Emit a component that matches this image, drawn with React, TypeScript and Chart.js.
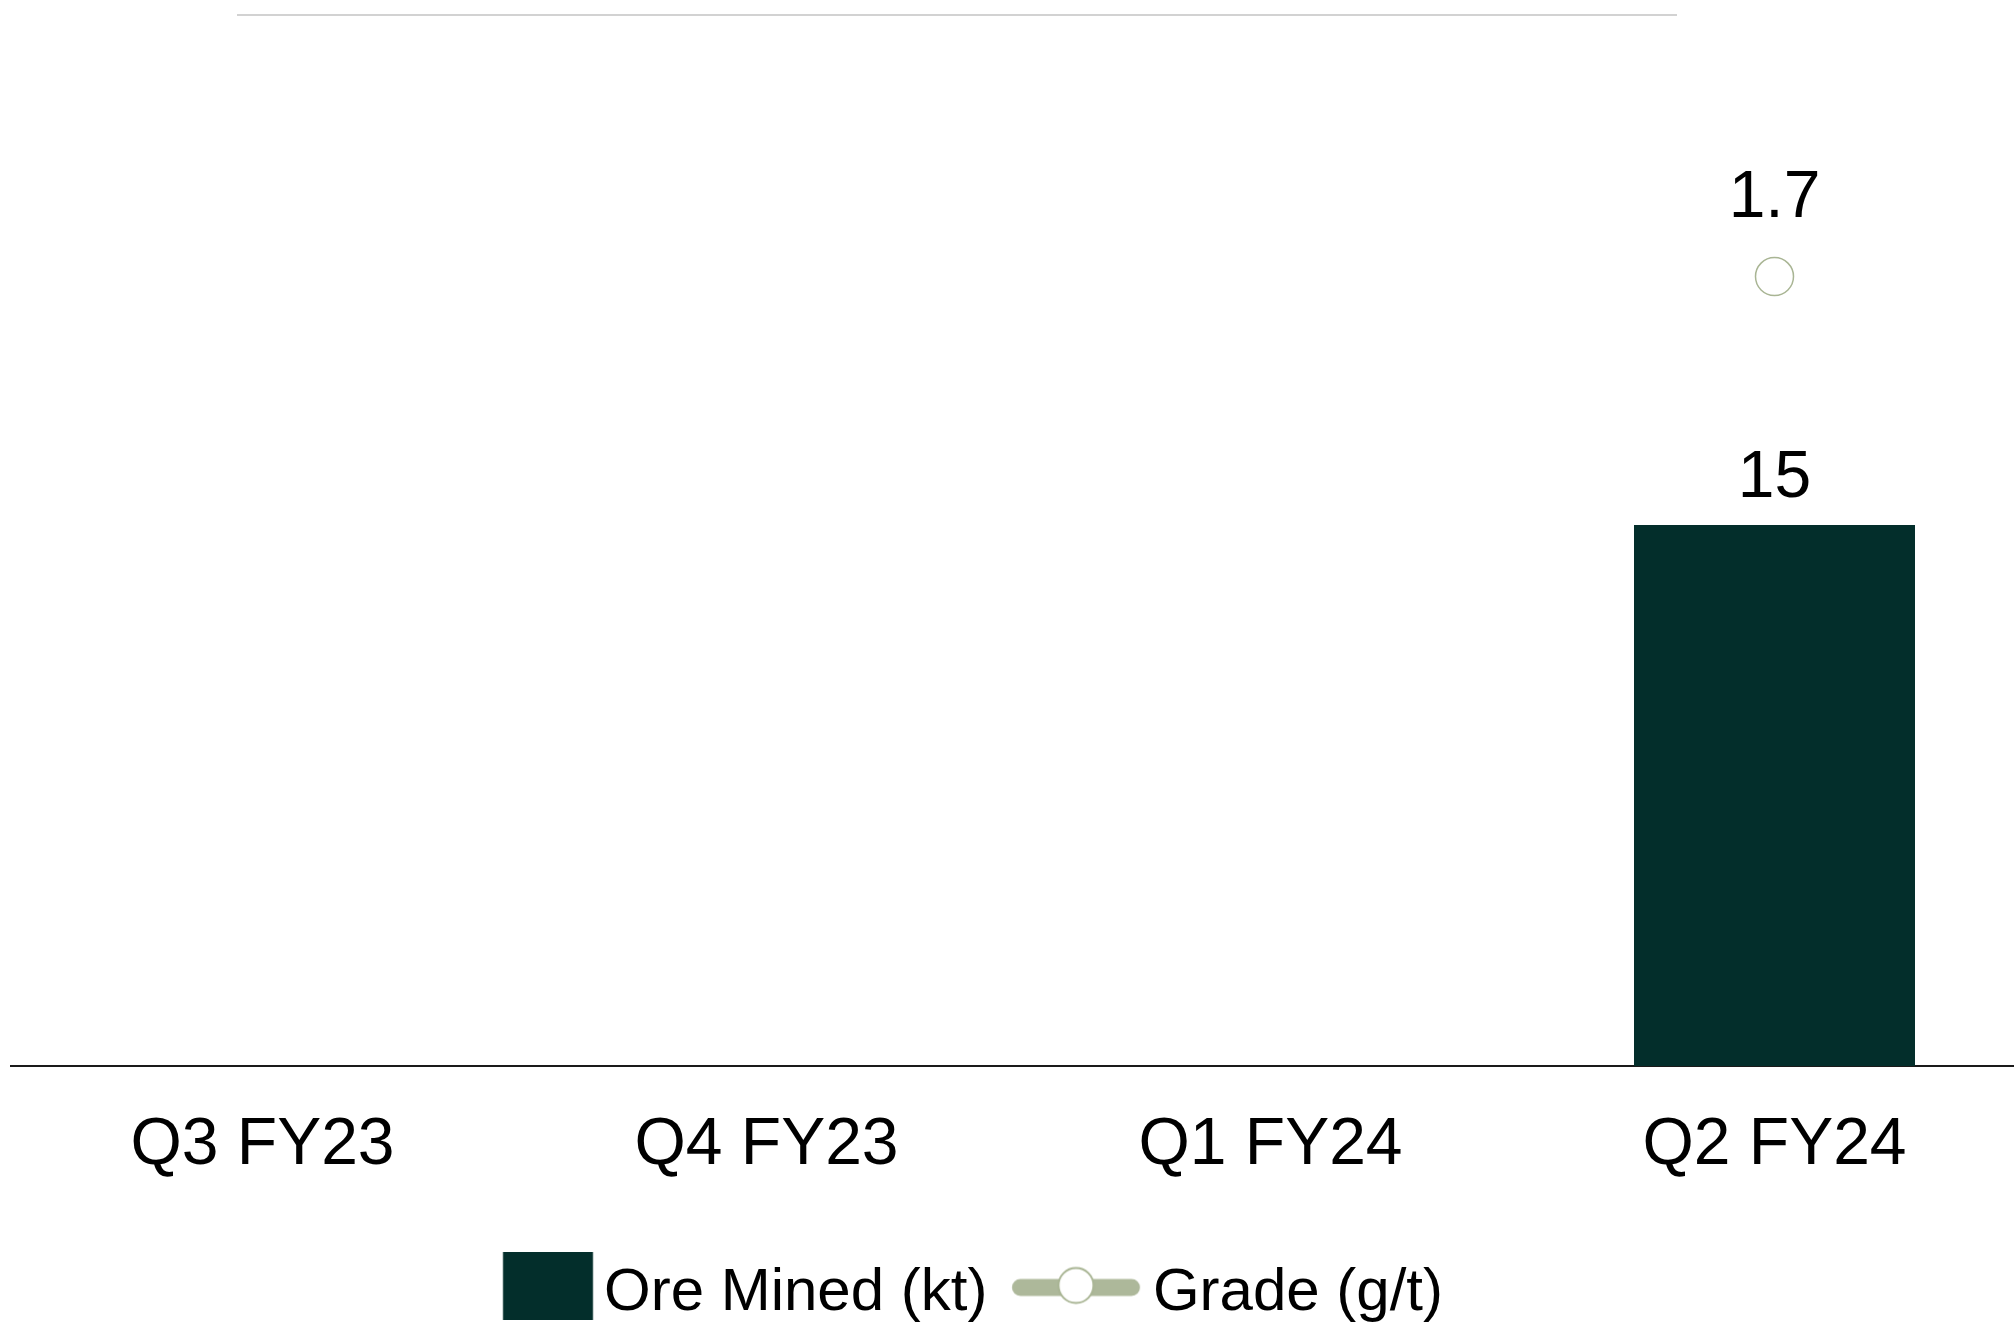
import { useEffect, useRef } from "react";
import { Chart, registerables } from "chart.js";

Chart.register(...registerables);

// ---- data ----
const categories = ["Q3 FY23", "Q4 FY23", "Q1 FY24", "Q2 FY24"];
const oreMined: (number | null)[] = [null, null, null, 15];
const grade: (number | null)[] = [null, null, null, 1.7];
const seriesNames = ["Ore Mined (kt)", "Grade (g/t)"];

// ---- style ----
const FONT = '"Liberation Sans", Arial, sans-serif';
const BAR_COLOR = "#032E2B";
const LINE_COLOR = "#ADB89A";
const POINT_BORDER = "#A9B594";
const CANVAS_LEFT = -10;
const CANVAS_W = 2057;
const CANVAS_H = 1333;
const LEGEND_FONT = 60;
const LEGEND_PAD = 37;
const LEGEND_BOX = 135.5 - LEGEND_PAD;
const LEGEND_TEXT1_X = 604; // page coordinates

function makeIcon(dx: number, dy: number, halfW: number, halfH: number, draw: (ctx: CanvasRenderingContext2D) => void) {
  const c = document.createElement("canvas");
  c.width = Math.ceil(2 * (Math.abs(dx) + halfW) + 6);
  c.height = Math.ceil(2 * (Math.abs(dy) + halfH) + 6);
  const ctx = c.getContext("2d")!;
  ctx.translate(c.width / 2 + dx, c.height / 2 + dy);
  draw(ctx);
  return c;
}

export default function App() {
  const ref = useRef<HTMLCanvasElement | null>(null);

  useEffect(() => {
    if (!ref.current) return;
    Chart.defaults.font.family = FONT;
    Chart.defaults.color = "#000";

    const mctx = document.createElement("canvas").getContext("2d")!;
    mctx.font = `${LEGEND_FONT}px ${FONT}`;
    const m1 = mctx.measureText(seriesNames[0]).width;

    // legend box centres (page coords) derived from the text positions
    const box1Center = LEGEND_TEXT1_X - LEGEND_FONT / 2 - LEGEND_BOX / 2;
    const text2X = LEGEND_TEXT1_X + m1 + LEGEND_PAD + LEGEND_BOX + LEGEND_FONT / 2;
    const box2Center = text2X - LEGEND_FONT / 2 - LEGEND_BOX / 2;

    const icon1 = makeIcon(548 - box1Center, -7, 45, 34, (ctx) => {
      ctx.fillStyle = BAR_COLOR;
      ctx.fillRect(-45, -34, 90, 68);
    });
    const icon2 = makeIcon(1076 - box2Center, -6.5, 66, 20, (ctx) => {
      ctx.strokeStyle = LINE_COLOR;
      ctx.lineWidth = 17;
      ctx.lineCap = "round";
      ctx.beginPath();
      ctx.moveTo(-55.5, 1);
      ctx.lineTo(55.5, 1);
      ctx.stroke();
      ctx.beginPath();
      ctx.arc(0, -1, 17.5, 0, Math.PI * 2);
      ctx.fillStyle = "#fff";
      ctx.fill();
      ctx.lineWidth = 2;
      ctx.strokeStyle = POINT_BORDER;
      ctx.stroke();
    });

    const legendShift = {
      id: "legendShift",
      afterLayout(chart: any) {
        const lg = chart.legend;
        if (!lg || !lg.lineWidths) return;
        const P = lg.options.labels.padding;
        const cx = (lg.left + P + lg.right - lg.lineWidths[0]) / 2;
        const t1 = cx + LEGEND_BOX + LEGEND_FONT / 2;
        const s = LEGEND_TEXT1_X - CANVAS_LEFT - t1;
        lg.left += s;
        lg.right += s;
      },
    };

    const valueLabels = {
      id: "valueLabels",
      afterDatasetsDraw(chart: any) {
        const ctx = chart.ctx;
        ctx.save();
        ctx.font = `66px ${FONT}`;
        ctx.fillStyle = "#000";
        ctx.textAlign = "center";
        ctx.textBaseline = "middle";
        chart.data.datasets.forEach((ds: any, i: number) => {
          const meta = chart.getDatasetMeta(i);
          meta.data.forEach((el: any, j: number) => {
            const v = ds.data[j];
            if (v == null) return;
            const off = ds.type === "line" ? 78 : 46.5;
            ctx.fillText(String(v), el.x, el.y - off);
          });
        });
        ctx.restore();
      },
    };

    const chart = new Chart(ref.current, {
      type: "bar",
      data: {
        labels: categories,
        datasets: [
          {
            type: "line",
            label: seriesNames[1],
            data: grade,
            yAxisID: "y2",
            borderColor: LINE_COLOR,
            borderWidth: 17,
            showLine: true,
            pointRadius: 19,
            pointHoverRadius: 19,
            pointBorderWidth: 1.5,
            pointBackgroundColor: "#fff",
            pointBorderColor: POINT_BORDER,
            order: 0,
          } as any,
          {
            type: "bar",
            label: seriesNames[0],
            data: oreMined,
            yAxisID: "y",
            backgroundColor: BAR_COLOR,
            barPercentage: 281 / 504,
            categoryPercentage: 1,
            order: 1,
          } as any,
        ],
      },
      options: {
        responsive: false,
        animation: false,
        devicePixelRatio: 1,
        layout: { padding: { left: 0, right: 0, top: 56, bottom: 0 } },
        plugins: {
          tooltip: { enabled: false },
          legend: {
            position: "bottom",
            labels: {
              usePointStyle: true,
              pointStyleWidth: LEGEND_BOX,
              padding: LEGEND_PAD,
              color: "#000",
              font: { size: LEGEND_FONT, family: FONT },
              generateLabels: () => [
                {
                  text: seriesNames[0],
                  pointStyle: icon1 as any,
                  fillStyle: BAR_COLOR,
                  strokeStyle: "transparent",
                  lineWidth: 0,
                  hidden: false,
                  datasetIndex: 1,
                },
                {
                  text: seriesNames[1],
                  pointStyle: icon2 as any,
                  fillStyle: "#fff",
                  strokeStyle: "transparent",
                  lineWidth: 0,
                  hidden: false,
                  datasetIndex: 0,
                },
              ],
            },
          },
        },
        scales: {
          x: {
            offset: true,
            grid: { display: false, drawTicks: false, tickLength: 0 },
            border: { display: true, color: "#1a1a1a", width: 2 },
            ticks: {
              color: "#000",
              padding: 0,
              font: { size: 66, family: FONT, lineHeight: 160 / 66 },
              maxRotation: 0,
              autoSkip: false,
            },
          },
          y: { display: false, min: 0, max: 28 },
          y2: { display: false, min: 0, max: 2.175, position: "right" },
        },
      } as any,
      plugins: [legendShift, valueLabels],
    });
    return () => chart.destroy();
  }, []);

  return (
    <div
      style={{
        position: "fixed",
        left: 0,
        top: 0,
        width: 2014,
        height: 1326,
        overflow: "hidden",
        background: "#fff",
      }}
    >
      <canvas
        ref={ref}
        width={CANVAS_W}
        height={CANVAS_H}
        style={{ position: "absolute", left: CANVAS_LEFT, top: 0, width: CANVAS_W, height: CANVAS_H }}
      />
      <div
        style={{
          position: "absolute",
          left: 237,
          top: 14,
          width: 1440,
          height: 2,
          background: "#d2d2d2",
        }}
      />
    </div>
  );
}
